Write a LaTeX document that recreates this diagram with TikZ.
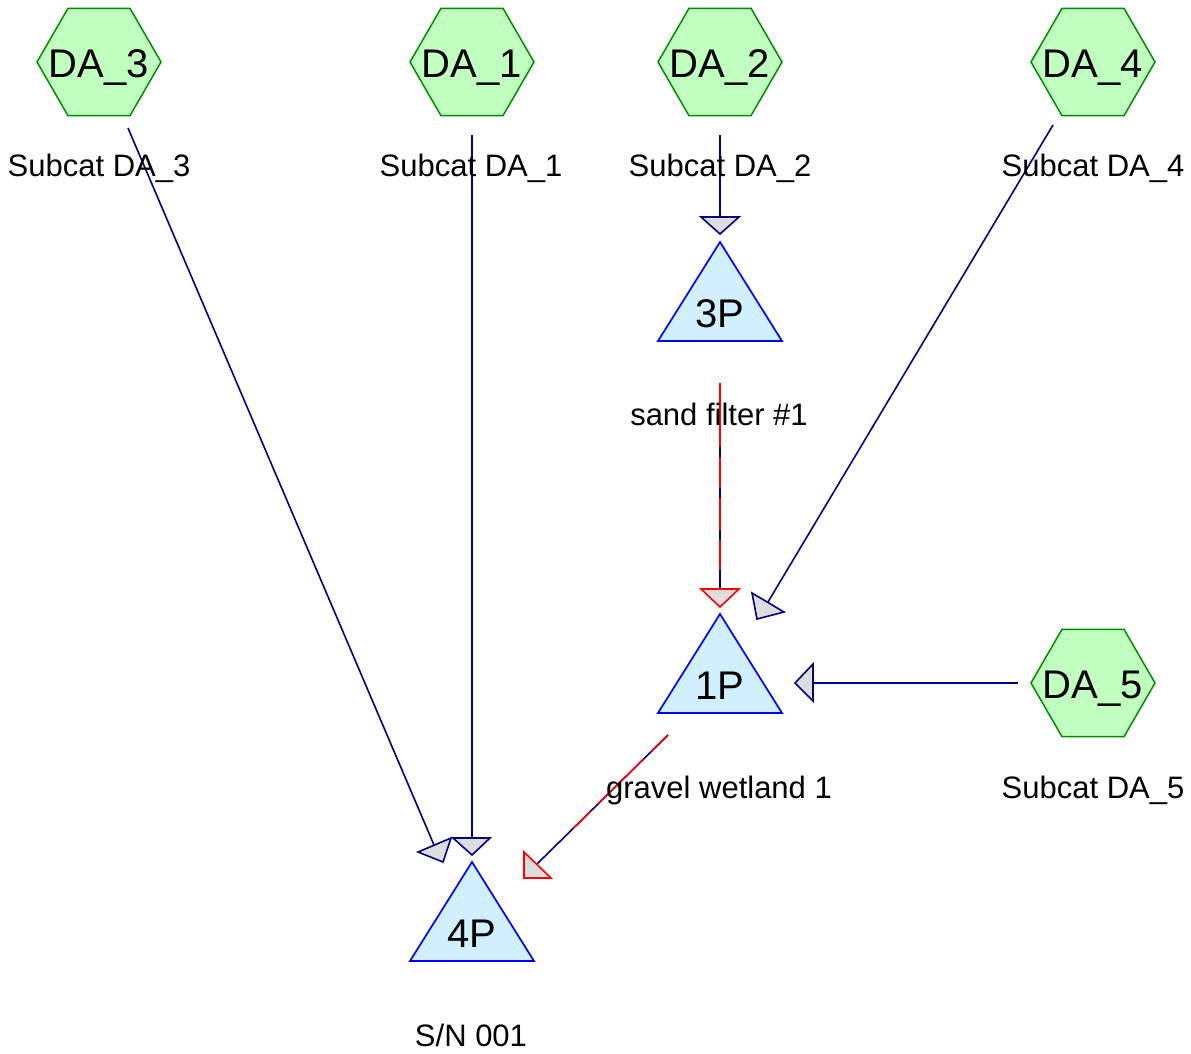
\documentclass[tikz,border=0pt]{standalone}
\usepackage{fontspec}
\setmainfont{Liberation Sans}
\usetikzlibrary{shapes.geometric}

\definecolor{hexfill}{RGB}{192,255,192}
\definecolor{hexline}{RGB}{0,140,0}
\definecolor{pondfill}{RGB}{208,240,255}
\definecolor{pondline}{RGB}{0,0,255}
\definecolor{navyline}{RGB}{0,0,128}
\definecolor{headfill}{RGB}{221,221,221}

\tikzset{
  subcat/.style={regular polygon, regular polygon sides=6, minimum size=124pt,
    inner sep=0pt, outer sep=0pt, fill=hexfill, draw=hexline, line width=1.5pt},
  pondbox/.style={rectangle, minimum width=124pt, minimum height=99pt,
    inner sep=0pt, outer sep=0pt},
  pondshape/.style={fill=pondfill, draw=pondline, line width=1.7pt, line join=miter},
  bigtext/.style={anchor=base, font=\fontsize{40}{40}\selectfont, inner sep=0pt},
  captext/.style={anchor=base, font=\fontsize{31}{31}\selectfont, inner sep=0pt},
  flow/.style={draw=navyline, line width=1.6pt},
  dashover/.style={draw=red, line width=1.6pt},
  headblue/.style={fill=headfill, draw=navyline, line width=1.6pt, line join=miter},
  headred/.style={fill=headfill, draw=red, line width=1.6pt, line join=miter}
}

\begin{document}
\begin{tikzpicture}[x=1pt, y=-1pt]
\useasboundingbox (0,0) rectangle (1191,1053);

% subcatchments
\node[subcat] (DA3) at (99,62) {};
\node[subcat] (DA1) at (472,62) {};
\node[subcat] (DA2) at (720,62) {};
\node[subcat] (DA4) at (1093,62) {};
\node[subcat] (DA5) at (1093,683) {};

\node[bigtext] (tDA3) at (99,77) {DA\_3};
\node[bigtext] (tDA1) at (472,77) {DA\_1};
\node[bigtext] (tDA2) at (720,77) {DA\_2};
\node[bigtext] (tDA4) at (1093,77) {DA\_4};
\node[bigtext] (tDA5) at (1093,698) {DA\_5};

% ponds
\node[pondbox] (P3) at (720,291.5) {};
\node[pondbox] (P1) at (720,663.5) {};
\node[pondbox] (P4) at (472,911.5) {};
\foreach \p in {P3,P1,P4}
  \path[pondshape] (\p.north) -- (\p.south east) -- (\p.south west) -- cycle;

\node[bigtext] (tP3) at (720,327) {3P};
\node[bigtext] (tP1) at (720,699) {1P};
\node[bigtext] (tP4) at (472,947) {4P};

% connector end points
\coordinate (s3) at (128,128);  \coordinate (e3) at (434,845);
\coordinate (s1) at (472,135);  \coordinate (e1) at (472,838);
\coordinate (s2) at (720,135);  \coordinate (e2) at (720,217);
\coordinate (s4) at (1053,125); \coordinate (e4) at (768,602);
\coordinate (s5) at (1018,683); \coordinate (e5) at (813,683);
\coordinate (sP3) at (720,383); \coordinate (eP3) at (720,589);
\coordinate (sP1) at (668,735); \coordinate (eP1) at (537,864);

% connectors
\draw[flow] (s3) -- (e3);
\draw[flow] (s1) -- (e1);
\draw[flow] (s2) -- (e2);
\draw[flow] (s4) -- (e4);
\draw[flow] (s5) -- (e5);
\draw[flow] (sP3) -- (eP3);
\draw[dashover, dash pattern=on 64pt off 10pt on 31pt off 10pt on 32pt off 10pt on 30pt off 40pt] (sP3) -- (eP3);
\draw[flow] (sP1) -- (eP1);
\draw[dashover, dash pattern=on 23pt off 11pt on 64pt off 11pt on 24pt off 60pt] (sP1) -- (eP1);

% arrow heads
\path[headblue] (418,852) -- (451,838) -- (443,862) -- cycle;
\path[headblue] (453,838) -- (490,838) -- (472,855) -- cycle;
\path[headblue] (701,217) -- (739,217) -- (720,234) -- cycle;
\path[headblue] (752,593) -- (784,612) -- (757,619) -- cycle;
\path[headblue] (813,664) -- (813,701) -- (795,683) -- cycle;
\path[headred] (701,589) -- (739,589) -- (720,607) -- cycle;
\path[headred] (524,852) -- (551,878) -- (524,878) -- cycle;

% captions
\node[captext] (cDA3) at (99,176) {Subcat DA\_3};
\node[captext] (cDA1) at (471,176) {Subcat DA\_1};
\node[captext] (cDA2) at (720,176) {Subcat DA\_2};
\node[captext] (cDA4) at (1093,176) {Subcat DA\_4};
\node[captext] (cDA5) at (1093,798) {Subcat DA\_5};
\node[captext] (cP3) at (719,425) {sand filter \#1};
\node[captext] (cP1) at (719,798) {gravel wetland 1};
\node[captext] (cP4) at (471,1046) {S/N 001};
\end{tikzpicture}
\end{document}
